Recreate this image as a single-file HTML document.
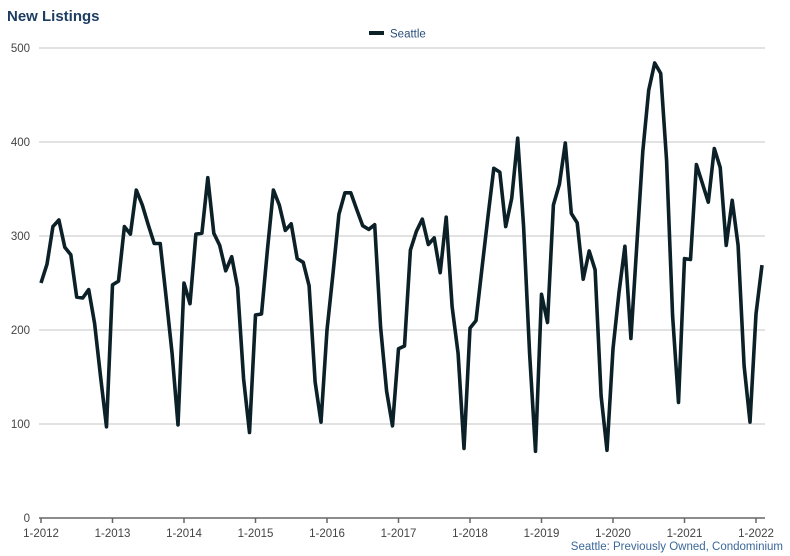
<!DOCTYPE html>
<html><head><meta charset="utf-8"><style>
html,body{margin:0;padding:0;background:#fff;}
svg{display:block;font-family:"Liberation Sans",Arial,sans-serif;}
</style></head><body>
<svg width="790" height="556" viewBox="0 0 790 556" xmlns="http://www.w3.org/2000/svg">
<text x="7" y="21" font-size="15" font-weight="bold" fill="#1e3d62">New Listings</text>
<line x1="369" y1="33" x2="384" y2="33" stroke="#0b2027" stroke-width="4"/>
<text x="390" y="37.5" font-size="11.5" fill="#2a4f7a">Seattle</text>
<g stroke="#c4c4c4" stroke-width="1">
<line x1="39" y1="48" x2="765" y2="48"/>
<line x1="39" y1="142" x2="765" y2="142"/>
<line x1="39" y1="236" x2="765" y2="236"/>
<line x1="39" y1="330" x2="765" y2="330"/>
<line x1="39" y1="424" x2="765" y2="424"/>
</g>
<line x1="39" y1="518" x2="765" y2="518" stroke="#666" stroke-width="1.5"/>
<g font-size="11.5" fill="#444" text-anchor="end">
<text x="30" y="52">500</text><text x="30" y="146">400</text><text x="30" y="240">300</text>
<text x="30" y="334">200</text><text x="30" y="428">100</text><text x="30" y="522">0</text>
</g>
<g stroke="#666" stroke-width="1.5">
<line x1="41" y1="518" x2="41" y2="523"/><line x1="112.5" y1="518" x2="112.5" y2="523"/>
<line x1="184" y1="518" x2="184" y2="523"/><line x1="255.5" y1="518" x2="255.5" y2="523"/>
<line x1="327" y1="518" x2="327" y2="523"/><line x1="398.5" y1="518" x2="398.5" y2="523"/>
<line x1="470" y1="518" x2="470" y2="523"/><line x1="541.5" y1="518" x2="541.5" y2="523"/>
<line x1="613" y1="518" x2="613" y2="523"/><line x1="684.5" y1="518" x2="684.5" y2="523"/>
<line x1="756" y1="518" x2="756" y2="523"/>
</g>
<g font-size="11.5" fill="#444" text-anchor="middle">
<text x="41" y="537">1-2012</text><text x="112.5" y="537">1-2013</text>
<text x="184" y="537">1-2014</text><text x="255.5" y="537">1-2015</text>
<text x="327" y="537">1-2016</text><text x="398.5" y="537">1-2017</text>
<text x="470" y="537">1-2018</text><text x="541.5" y="537">1-2019</text>
<text x="613" y="537">1-2020</text><text x="684.5" y="537">1-2021</text>
<text x="756" y="537">1-2022</text>
</g>
<polyline fill="none" stroke="#0b2027" stroke-width="3.6" stroke-linejoin="round" points="
41,283 47,264.2 52.9,226.6 58.9,220 64.8,247.3 70.8,254.8 76.7,297.1 82.7,298 88.7,289.6 94.6,323.4 100.6,377 106.5,426.8
112.5,284.9 118.5,281.1 124.4,226.6 130.4,234.1 136.3,190.1 142.3,205 148.2,224.7 154.2,243.5 160.2,243.5 166.1,297.1 172.1,353.5 178,424.9
184,283 190,303.7 195.9,234.1 201.9,233.2 207.8,177.7 213.8,233.2 219.7,245.4 225.7,270.8 231.7,256.7 237.6,287.7 243.6,378.9 249.5,432.5
255.5,315 261.5,314 267.4,250.1 273.4,190.1 279.3,205 285.3,230.4 291.2,223.8 297.2,258.6 303.2,262.3 309.1,285.8 315.1,381.7 321,422.1
327,330 333,273.6 338.9,214.4 344.9,192.8 350.8,192.8 356.8,209.7 362.7,225.7 368.7,229.4 374.7,224.7 380.6,327.2 386.6,391.1 392.5,425.9
398.5,348.8 404.5,346 410.4,250.1 416.4,231.3 422.3,219.1 428.3,244.5 434.2,237.9 440.2,272.7 446.2,217.2 452.1,306.5 458.1,353.5 464,448.4
470,328.1 476,320.6 481.9,268.9 487.9,217.2 493.8,168.3 499.8,172.1 505.7,226.6 511.7,198.4 517.7,138.2 523.6,226.6 529.6,353.5 535.5,451.3
541.5,294.3 547.5,322.5 553.4,205 559.4,184.3 565.3,143 571.3,213.4 577.2,222.8 583.2,279.2 589.2,251 595.1,269.8 601.1,395.8 607,450.3
613,348.8 619,292.4 624.9,246.3 630.9,338.5 636.8,245.4 642.8,151.4 648.7,90.3 654.7,63 660.7,73.4 666.6,160.8 672.6,315.9 678.5,402.4
684.5,258.6 690.5,259.5 696.4,164.6 702.4,183.4 708.3,202.2 714.3,148.6 720.2,167.4 726.2,245.4 732.2,200.3 738.1,245.4 744.1,365.7 750,422.1
756,314 762,265.1"/>
<text x="783" y="550" font-size="11.5" fill="#3a6899" text-anchor="end">Seattle: Previously Owned, Condominium</text>
</svg>
</body></html>
